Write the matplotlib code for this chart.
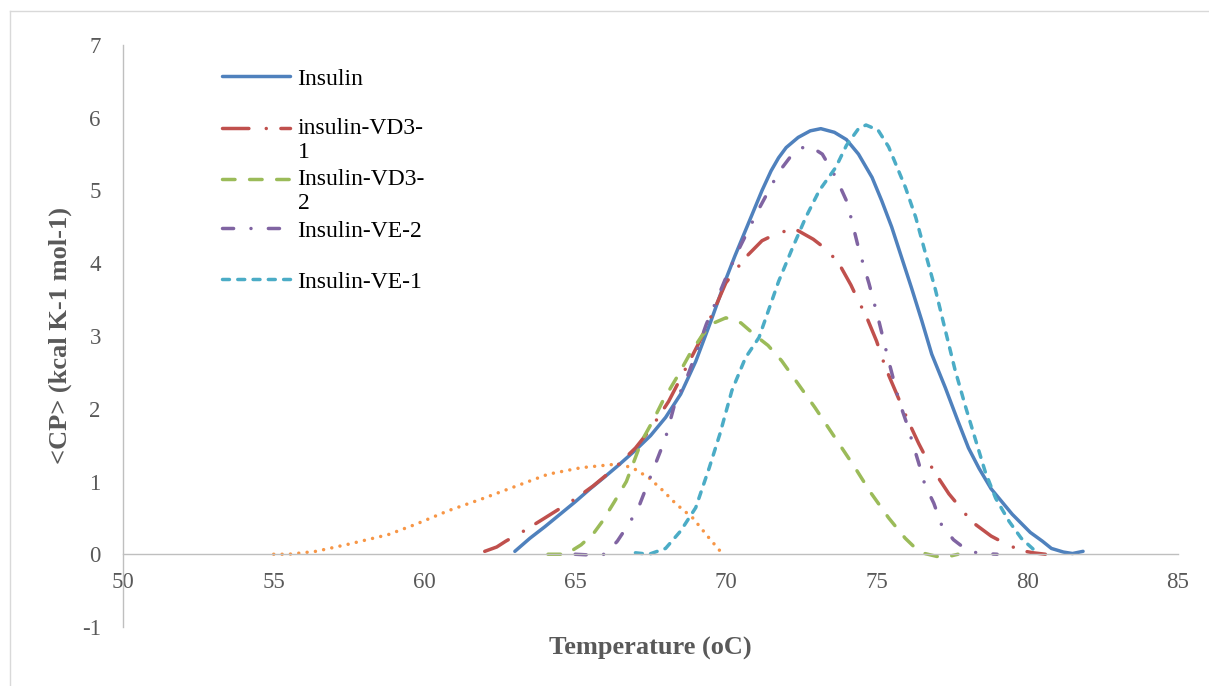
import numpy as np
import matplotlib.pyplot as plt
from matplotlib.lines import Line2D
from matplotlib.legend import Legend
from matplotlib.legend_handler import HandlerLine2D

# data
insulin_x = [63.0, 63.5, 64.0, 64.5, 65.0, 65.5, 66.0, 66.4, 67.0, 67.5, 68.0, 68.5, 69.0, 69.5,
             70.0, 70.3, 70.7, 71.2, 71.5, 71.75, 72.0, 72.4, 72.8, 73.15, 73.6, 74.0, 74.4,
             74.85, 75.17, 75.5, 75.83, 76.16, 76.5, 76.83, 77.28, 77.7, 78.05, 78.4, 78.8,
             79.5, 80.1, 80.5, 80.8, 81.2, 81.5, 81.85]
insulin_y = [0.04, 0.22, 0.38, 0.55, 0.72, 0.9, 1.07, 1.21, 1.43, 1.63, 1.88, 2.2, 2.65, 3.2,
             3.78, 4.1, 4.5, 5.0, 5.27, 5.45, 5.59, 5.73, 5.82, 5.85, 5.8, 5.7, 5.5,
             5.18, 4.86, 4.5, 4.08, 3.66, 3.21, 2.75, 2.29, 1.83, 1.46, 1.18, 0.9,
             0.55, 0.3, 0.18, 0.08, 0.03, 0.01, 0.04]

vd31_x = [62.0, 62.4, 62.7, 63.3, 64.0, 64.5, 65.0, 65.6, 66.3, 67.0, 67.5, 68.1, 68.6, 69.1,
          69.6, 70.0, 70.35, 70.7, 71.2, 71.75, 72.3, 72.9, 73.4, 73.8, 74.15, 74.4, 74.65,
          75.0, 75.3, 75.65, 76.05, 76.4, 76.7, 77.05, 77.4, 77.8, 78.15, 78.8, 79.3, 79.8,
          80.2, 80.6]
vd31_y = [0.04, 0.1, 0.18, 0.32, 0.5, 0.63, 0.76, 0.94, 1.18, 1.46, 1.72, 2.1, 2.5, 2.9,
          3.35, 3.73, 3.92, 4.1, 4.31, 4.42, 4.47, 4.33, 4.17, 3.96, 3.7, 3.48, 3.28,
          2.93, 2.56, 2.22, 1.83, 1.52, 1.28, 1.05, 0.83, 0.63, 0.45, 0.25, 0.14, 0.05,
          0.02, 0.0]

vd32_x = [64.1, 64.7, 65.2, 65.6, 65.9, 66.3, 66.7, 67.2, 67.6, 67.9, 68.4, 68.8, 69.2, 69.55,
          70.0, 70.5, 71.0, 71.4, 71.85, 72.4, 72.95, 73.4, 73.85, 74.3, 74.8, 75.4, 75.95,
          76.3, 76.6, 77.0, 77.4, 77.7]
vd32_y = [0.0, 0.0, 0.13, 0.28, 0.45, 0.72, 1.0, 1.55, 1.85, 2.1, 2.45, 2.75, 3.0, 3.17,
          3.25, 3.18, 3.0, 2.87, 2.66, 2.34, 2.02, 1.74, 1.46, 1.18, 0.85, 0.5, 0.22,
          0.08, 0.01, -0.03, -0.03, 0.0]

ve2_x = [65.0, 65.5, 66.0, 66.4, 66.8, 67.1, 67.4, 67.7, 68.0, 68.3, 68.7, 69.0, 69.35, 69.7,
         70.0, 70.45, 71.1, 71.75, 72.3, 72.75, 73.2, 73.65, 74.0, 74.15, 74.4, 74.75, 75.05,
         75.4, 75.75, 76.0, 76.4, 76.6, 76.9, 77.15, 77.55, 78.05, 78.5, 79.0]
ve2_y = [0.0, -0.01, 0.0, 0.18, 0.43, 0.64, 0.96, 1.28, 1.6, 2.06, 2.42, 2.75, 3.16, 3.5,
         3.8, 4.21, 4.75, 5.25, 5.55, 5.62, 5.5, 5.18, 4.86, 4.63, 4.21, 3.72, 3.25,
         2.66, 2.1, 1.8, 1.25, 0.96, 0.7, 0.41, 0.2, 0.04, 0.01, 0.0]

ve1_x = [67.0, 67.45, 68.0, 68.5, 69.0, 69.45, 69.8, 70.2, 70.65, 71.1, 71.75, 72.2, 72.65,
         73.1, 73.65, 74.0, 74.4, 74.65, 75.05, 75.4, 75.96, 76.3, 76.6, 76.95, 77.28, 77.6,
         77.95, 78.3, 78.6, 78.95, 79.4, 79.8, 80.25]
ve1_y = [0.02, 0.0, 0.08, 0.32, 0.64, 1.19, 1.65, 2.25, 2.7, 2.98, 3.75, 4.2, 4.63,
         5.0, 5.32, 5.62, 5.85, 5.9, 5.83, 5.6, 5.04, 4.63, 4.17, 3.64, 3.08, 2.54,
         2.03, 1.55, 1.14, 0.77, 0.45, 0.22, 0.05]

other_x = [55.0, 55.5, 56.4, 57.5, 58.8, 59.7, 60.8, 61.9, 63.0, 64.1, 65.2, 66.4, 66.9,
           67.45, 67.9, 68.35, 68.9, 69.45, 69.9]
other_y = [0.0, 0.0, 0.04, 0.14, 0.27, 0.41, 0.6, 0.76, 0.93, 1.1, 1.19, 1.24, 1.19,
           1.05, 0.88, 0.69, 0.5, 0.22, 0.0]

labels = ['Insulin', 'insulin-VD3-\n1', 'Insulin-VD3-\n2', 'Insulin-VE-2', 'Insulin-VE-1']
x_ticks = [50, 55, 60, 65, 70, 75, 80, 85]
y_ticks = [-1, 0, 1, 2, 3, 4, 5, 6, 7]

plt.rcParams['font.family'] = ['Liberation Serif', 'DejaVu Serif']
plt.rcParams['axes.unicode_minus'] = False
grey = '#595959'
axis_grey = '#BFBFBF'


class FirstLineHandler(HandlerLine2D):
    # Excel puts the legend key next to the first line of a wrapped label
    def __init__(self, shift=0, **kw):
        super().__init__(**kw)
        self.shift = shift

    def create_artists(self, legend, orig_handle, xdescent, ydescent, width, height,
                       fontsize, trans):
        arts = super().create_artists(legend, orig_handle, xdescent, ydescent, width,
                                      height, fontsize, trans)
        for a in arts:
            a.set_ydata(np.asarray(a.get_ydata()) + self.shift)
        return arts


fig = plt.figure(figsize=(12.09, 6.86), dpi=100)
ax = fig.add_axes([123 / 1209, 1 - 627 / 686, (1178 - 123) / 1209, (627 - 45) / 686])

lw = 2.5
common = dict(lw=lw, dash_capstyle='round', solid_capstyle='round')
ax.plot(other_x, other_y, color='#F79646', dashes=(0.01, 2.4), **common)
l1, = ax.plot(insulin_x, insulin_y, color='#4F81BD', **common)
l2, = ax.plot(vd31_x, vd31_y, color='#C0504D', dashes=(7.6, 5.0, 0.01, 4.2), **common)
l3, = ax.plot(vd32_x, vd32_y, color='#9BBB59', dashes=(3.6, 4.2), **common)
l4, = ax.plot(ve2_x, ve2_y, color='#8064A2', dashes=(3.2, 5.0, 0.01, 5.0), **common)
l5, = ax.plot(ve1_x, ve1_y, color='#4BACC6', dashes=(2.0, 2.4), **common)

ax.set_xlim(50, 85)
ax.set_ylim(-1, 7)
ax.set_xticks(x_ticks)
ax.set_yticks(y_ticks)

for side in ['top', 'right']:
    ax.spines[side].set_visible(False)
ax.spines['bottom'].set_position(('data', 0))
for side in ['left', 'bottom']:
    ax.spines[side].set_color(axis_grey)
    ax.spines[side].set_linewidth(1.0)

ax.tick_params(axis='x', length=0, pad=13, labelsize=16.5, labelcolor=grey)
ax.tick_params(axis='y', length=0, pad=16, labelsize=16.5, labelcolor=grey)

fig.text(650 / 1209, 1 - 648 / 686, 'Temperature (oC)', ha='center', va='center',
         fontsize=19, fontweight='bold', color=grey)
fig.text(60 / 1209, 1 - 336 / 686, '<CP> (kcal K-1 mol-1)', ha='center', va='center',
         rotation=90, fontsize=19, fontweight='bold', color=grey)

# legend: one slot per series, evenly spaced like Excel
slot_tops = [68, 118, 169, 220, 271]
for line, label, top in zip([l1, l2, l3, l4, l5], labels, slot_tops):
    shift = 8.6 if '\n' in label else 0
    leg = Legend(ax, [line], [label], loc='upper left',
                 bbox_to_anchor=(222 / 1209, 1 - top / 686), bbox_transform=fig.transFigure,
                 frameon=False, fontsize=17, handlelength=2.9, handletextpad=0.3,
                 borderpad=0, borderaxespad=0,
                 handler_map={line: FirstLineHandler(shift)})
    ax.add_artist(leg)

# light chart-area border (top and left visible)
fig.add_artist(Line2D([10 / 1209, 1], [1 - 11 / 686, 1 - 11 / 686],
                      transform=fig.transFigure, color='#D9D9D9', lw=1))
fig.add_artist(Line2D([10 / 1209, 10 / 1209], [0, 1 - 11 / 686],
                      transform=fig.transFigure, color='#D9D9D9', lw=1))

fig.savefig('out.png', dpi=100, facecolor='white')
